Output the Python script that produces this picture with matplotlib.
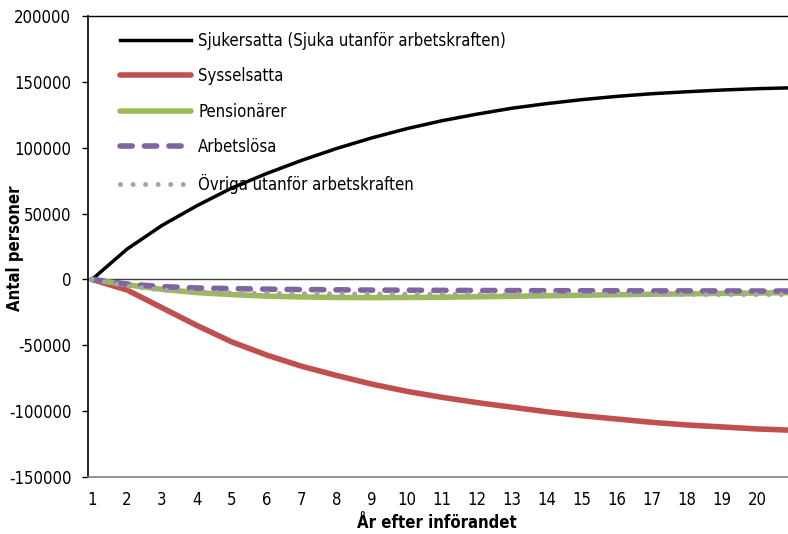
import matplotlib
matplotlib.use("Agg")
import matplotlib.pyplot as plt

plt.rcParams['font.family'] = ['DejaVu Sans']
plt.rcParams['font.stretch'] = 'condensed'

years = list(range(1, 22))
tick_years = list(range(1, 21))

sjukersatta = [0, 23000, 41000, 56000, 69500, 80500, 90500, 99500, 107500, 114500,
               120500, 125500, 130000, 133500, 136500, 139000, 141000, 142500, 143800,
               144800, 145500]
sysselsatta = [0, -8000, -21500, -35000, -47500, -57500, -66000, -73000, -79500, -85000,
               -89500, -93500, -97000, -100500, -103500, -106000, -108500, -110500,
               -112000, -113500, -114500]
pensionarer = [0, -4000, -7500, -10000, -11500, -12700, -13300, -13700, -13800, -13700,
               -13500, -13200, -12800, -12400, -12000, -11600, -11200, -10900, -10600,
               -10300, -10000]
arbetslosa = [0, -3500, -5500, -6500, -7000, -7400, -7700, -7900, -8100, -8200, -8300,
              -8400, -8500, -8550, -8600, -8650, -8700, -8700, -8750, -8800, -8800]
ovriga = [0, -5000, -8000, -9500, -10200, -10600, -10800, -11000, -11100, -11200,
          -11200, -11300, -11300, -11300, -11400, -11400, -11400, -11500, -11500,
          -11500, -11500]

labels = ["Sjukersatta (Sjuka utanför arbetskraften)", "Sysselsatta", "Pensionärer",
          "Arbetslösa", "Övriga utanför arbetskraften"]
yticks = [-150000, -100000, -50000, 0, 50000, 100000, 150000, 200000]

fig = plt.figure(figsize=(7.88, 5.34), dpi=100)
ax = fig.add_axes([88/788, 1-477/534, 700/788, 461/534])

ax.axhline(0, color='#404040', lw=1.0, zorder=1)
ax.plot(years, sjukersatta, color='black', lw=2.5, label=labels[0], zorder=3,
        solid_joinstyle='round')
ax.plot(years, sysselsatta, color='#C0504D', lw=4, solid_capstyle='round',
        solid_joinstyle='round', label=labels[1], zorder=3)
ax.plot(years, pensionarer, color='#9BBB59', lw=4, solid_capstyle='round',
        solid_joinstyle='round', label=labels[2], zorder=3)
ax.plot(years, arbetslosa, color='#8064A2', lw=4, dashes=(2.2, 2.2),
        dash_capstyle='round', label=labels[3], zorder=3)
ax.plot(years, ovriga, color='#A5A5A5', lw=3.6, dashes=(0.01, 2.5),
        dash_capstyle='round', label=labels[4], zorder=3)

ax.set_xlim(1 - 4/35, 1 + 696/35)
ax.set_ylim(-150000, 200000)
ax.set_yticks(yticks)
ax.set_yticklabels([str(v) for v in yticks])
ax.set_xticks(tick_years)
ax.set_xticklabels([str(v) for v in tick_years])

ax.tick_params(axis='y', direction='out', length=4, width=1, colors='black', labelsize=12, pad=8)
ax.tick_params(axis='x', length=0, labelsize=12, pad=10)

ax.spines['left'].set_color('black')
ax.spines['left'].set_linewidth(1.2)
ax.spines['top'].set_color('black')
ax.spines['top'].set_linewidth(1.0)
ax.spines['bottom'].set_color('#808080')
ax.spines['bottom'].set_linewidth(1.2)
ax.spines['right'].set_visible(False)

fig.text(15/788, 1 - 248/534, "Antal personer", rotation=90, fontsize=12,
         fontweight='bold', ha='center', va='center')
fig.text(437/788, 1 - 523/534, "År efter införandet", fontsize=12,
         fontweight='bold', ha='center', va='center')

leg = ax.legend(loc='upper left', frameon=False, fontsize=12, handlelength=4.3,
                labelspacing=1.05, handletextpad=0.4, borderaxespad=0.0,
                bbox_to_anchor=(25/700, 1 - 9/461))

fig.savefig("out.png", dpi=100)
